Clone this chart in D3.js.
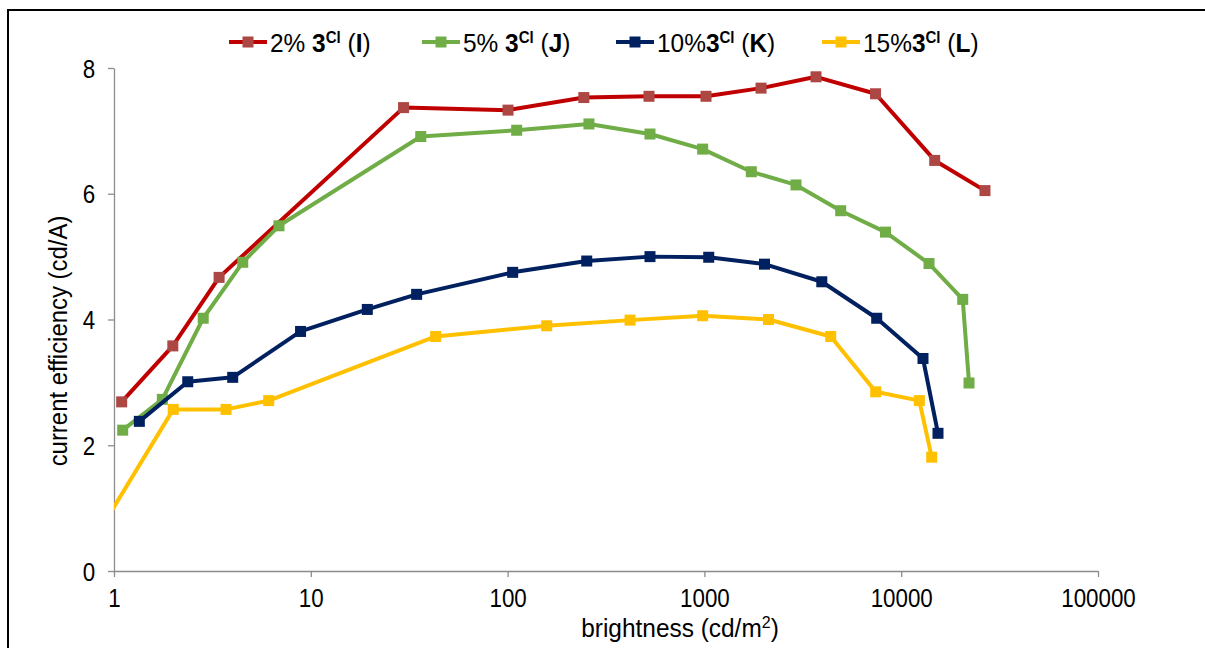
<!DOCTYPE html>
<html><head><meta charset="utf-8">
<script src="https://cdn.jsdelivr.net/npm/d3@7"></script>
<style>
body{margin:0;background:#fff}
svg{display:block}
text{font-family:"Liberation Sans",Arial,sans-serif;fill:#000}
</style>
</head><body>
<svg id="c" width="1205" height="648"></svg>
<script>
// ---- data ----
const seriesPct = ["2%", "5%", "10%", "15%"];
const seriesLetters = ["I", "J", "K", "L"];

const bright2 = [1.094, 1.99, 3.42, 29.6, 100.5, 244, 523, 1019, 1940, 3690, 7405, 14800, 26650];
const eff2    = [2.69, 3.58, 4.67, 7.37, 7.33, 7.53, 7.55, 7.55, 7.68, 7.86, 7.59, 6.53, 6.05];

const bright5 = [1.107, 1.76, 2.84, 4.51, 6.89, 36.2, 111.2, 259, 529, 980, 1731, 2920, 4927, 8322, 13846, 20540, 22110];
const eff5    = [2.24, 2.73, 4.02, 4.91, 5.49, 6.91, 7.01, 7.11, 6.95, 6.71, 6.35, 6.14, 5.73, 5.39, 4.89, 4.32, 2.99];

const bright10 = [1.345, 2.37, 4.01, 8.87, 19.37, 34.5, 106.1, 252.4, 529, 1052, 2020, 3950, 7508, 12905, 15380];
const eff10    = [2.38, 3.01, 3.08, 3.81, 4.16, 4.40, 4.75, 4.93, 5.00, 4.99, 4.88, 4.60, 4.02, 3.38, 2.19];

const bright15 = [0.8, 2.0, 3.71, 6.11, 43.1, 158, 419, 980, 2117, 4384, 7422, 12360, 14290];
const eff15    = [0.52, 2.57, 2.57, 2.71, 3.73, 3.90, 3.99, 4.06, 4.00, 3.73, 2.85, 2.71, 1.81];

const xTicks = [1, 10, 100, 1000, 10000, 100000];
const yTicks = [0, 2, 4, 6, 8];

const lineColors   = ["#C00000", "#70AD47", "#002060", "#FFC000"];
const markerColors = ["#AD4744", "#70AD47", "#002060", "#FFC000"];

const series = [
  {x: bright2, y: eff2},
  {x: bright5, y: eff5},
  {x: bright10, y: eff10},
  {x: bright15, y: eff15}
].map((s, i) => ({
  pct: seriesPct[i], letter: seriesLetters[i],
  pts: s.x.map((v, j) => ({x: v, y: s.y[j]}))
}));

// ---- chart ----
const svg = d3.select("#c");
svg.append("rect").attr("width", 1205).attr("height", 648).attr("fill", "#fff");

// outer frame (left & top edges visible)
svg.append("path").attr("d", "M8,648 L8,10 L1205,10")
  .attr("fill", "none").attr("stroke", "#000").attr("stroke-width", 2);

const x = d3.scaleLog().domain([1, 100000]).range([114, 1098]);
const y = d3.scaleLinear().domain([0, 8]).range([571, 68]);

const tickFS = 26, tickSX = 0.86;
// axes
const gx = svg.append("g").attr("transform", "translate(0,571)")
  .call(d3.axisBottom(x).tickValues(xTicks).tickFormat(d3.format("d")).tickSize(6).tickSizeOuter(0).tickPadding(12));
const gy = svg.append("g").attr("transform", "translate(114,0)")
  .call(d3.axisLeft(y).tickValues(yTicks).tickFormat(d3.format("d")).tickSize(6).tickSizeOuter(0).tickPadding(10));
[gx, gy].forEach(g => {
  g.select(".domain").attr("stroke", "#8C8C8C").attr("stroke-width", 1.3);
  g.selectAll(".tick line").attr("stroke", "#8C8C8C").attr("stroke-width", 1.3);
  g.selectAll(".tick text").attr("fill", "#000").style("font-size", tickFS + "px")
    .style("font-family", '"Liberation Sans", Arial, sans-serif')
    .attr("transform", `scale(${tickSX},1)`);
});
gx.selectAll(".tick text").attr("dy", "0.71em");
gy.selectAll(".tick text").attr("dy", "0.35em").attr("x", -22);

const titleFS = 26, titleSX = 0.94;
// axis titles
const xt = svg.append("text").attr("transform", `translate(680,637) scale(${titleSX},1)`)
  .attr("text-anchor", "middle").style("font-size", titleFS + "px");
xt.append("tspan").text("brightness (cd/m");
xt.append("tspan").attr("dy", -9).style("font-size", "17px").text("2");
xt.append("tspan").attr("dy", 9).text(")");

svg.append("text").attr("transform", `translate(67,341) rotate(-90) scale(0.92,1)`)
  .attr("text-anchor", "middle").style("font-size", titleFS + "px").text("current efficiency (cd/A)");

// clip
svg.append("clipPath").attr("id", "clip").append("rect")
  .attr("x", 114).attr("y", 0).attr("width", 1000).attr("height", 571);

const plot = svg.append("g").attr("clip-path", "url(#clip)");
const line = d3.line().x(d => x(d.x)).y(d => y(d.y));
const ms = 11;

series.forEach((s, i) => {
  const g = plot.append("g");
  g.append("path").datum(s.pts).attr("d", line)
    .attr("fill", "none").attr("stroke", lineColors[i]).attr("stroke-width", 4)
    .attr("stroke-linejoin", "round");
  g.selectAll("rect").data(s.pts).join("rect")
    .attr("x", d => x(d.x) - ms / 2).attr("y", d => y(d.y) - ms / 2)
    .attr("width", ms).attr("height", ms).attr("fill", markerColors[i]);
});

// legend
const legendX = [229, 422, 616, 822];
const legY = 42;
const legFS = 26, legSX = 0.94;
series.forEach((s, i) => {
  const g = svg.append("g").attr("transform", `translate(${legendX[i]},${legY})`);
  g.append("line").attr("x1", 0).attr("x2", 38).attr("y1", 0).attr("y2", 0)
    .attr("stroke", lineColors[i]).attr("stroke-width", 4);
  g.append("rect").attr("x", 19 - ms / 2).attr("y", -ms / 2).attr("width", ms).attr("height", ms)
    .attr("fill", markerColors[i]);
  const t = g.append("text").attr("transform", `translate(41,9.5) scale(${legSX},1)`)
    .style("font-size", legFS + "px");
  t.append("tspan").text(s.pct + (s.pct.length < 3 ? " " : ""));
  t.append("tspan").style("font-weight", "bold").text("3");
  t.append("tspan").style("font-weight", "bold").style("font-size", "16px").attr("dy", -9).text("Cl");
  t.append("tspan").attr("dy", 9).text(" (");
  t.append("tspan").style("font-weight", "bold").text(s.letter);
  t.append("tspan").text(")");
});
</script>
</body></html>
